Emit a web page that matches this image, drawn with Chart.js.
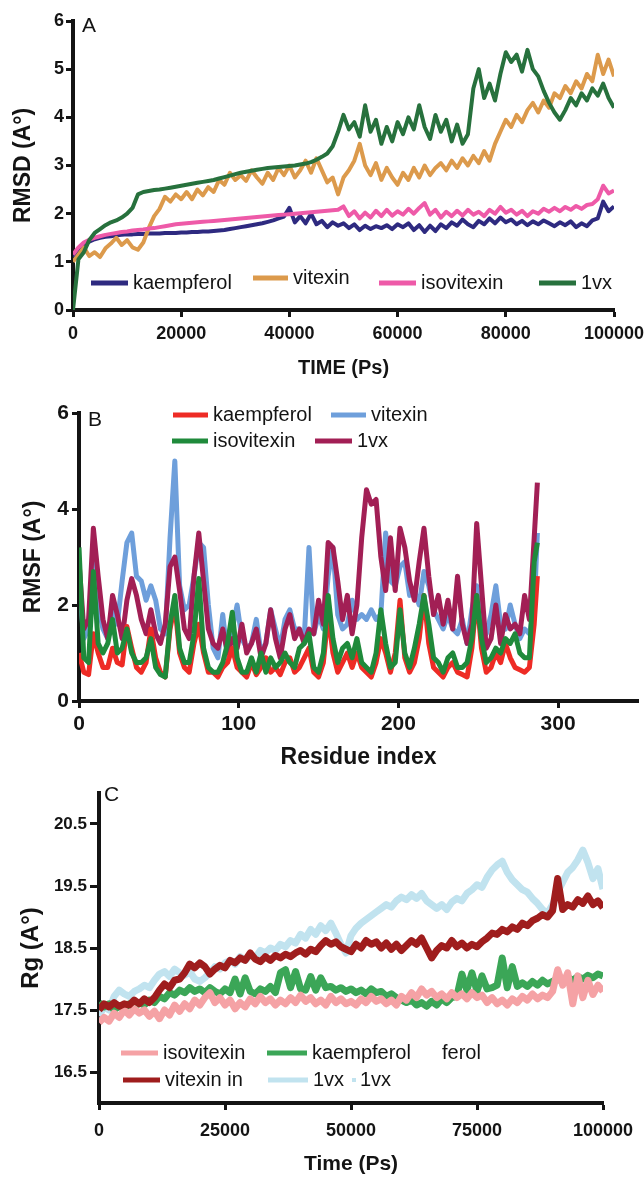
<!DOCTYPE html>
<html>
<head>
<meta charset="utf-8">
<script src="https://cdn.jsdelivr.net/npm/chart.js@4.4.1/dist/chart.umd.min.js"></script>
<style>
  html, body { margin: 0; padding: 0; background: #fff; }
  body { width: 644px; height: 1178px; position: relative; overflow: hidden; }
  canvas { position: absolute; left: 0; }
</style>
</head>
<body>
<canvas id="rmsd" width="644" height="380" style="top:0px"></canvas>
<canvas id="rmsf" width="644" height="400" style="top:380px"></canvas>
<canvas id="rg" width="644" height="398" style="top:780px"></canvas>
<script>
// ---- DATA ----
// A: RMSD, one sample every 1000 ps
const timeStepPs = 1000;
const rmsdTicksX = [0, 20000, 40000, 60000, 80000, 100000];
const rmsdTicksY = [0, 1, 2, 3, 4, 5, 6];

const kaempferolRmsd = [
  1.1,1.25,1.35,1.42,1.47,1.5,1.52,1.53,1.55,1.56,1.57,
  1.57,1.58,1.58,1.59,1.59,1.59,1.6,1.6,1.6,1.61,
  1.61,1.62,1.62,1.63,1.63,1.64,1.65,1.66,1.68,1.7,
  1.72,1.74,1.76,1.78,1.8,1.83,1.86,1.9,1.94,2.12,
  1.82,1.95,1.8,2.0,1.78,1.85,1.72,1.82,1.75,1.8,
  1.7,1.78,1.66,1.75,1.68,1.74,1.7,1.76,1.68,1.78,
  1.72,1.8,1.66,1.76,1.62,1.75,1.64,1.78,1.7,1.82,
  1.75,1.88,1.78,1.72,1.85,1.78,1.9,1.8,1.92,1.82,
  1.88,1.78,1.85,1.76,1.84,1.78,1.86,1.8,1.74,1.82,
  1.76,1.84,1.72,1.8,1.74,1.86,1.9,2.25,2.05,2.15
];
const vitexinRmsd = [
  1.0,1.15,1.3,1.12,1.2,1.1,1.28,1.38,1.5,1.35,1.45,
  1.3,1.25,1.4,1.7,1.95,2.1,2.35,2.25,2.4,2.3,
  2.45,2.3,2.5,2.38,2.55,2.45,2.7,2.6,2.85,2.7,
  2.8,2.68,2.9,2.75,2.62,2.85,2.7,2.95,2.8,3.0,
  2.75,2.9,3.1,2.85,3.15,2.9,2.65,2.75,2.4,2.75,
  2.9,3.1,3.45,3.0,2.8,3.05,2.7,2.95,2.75,2.6,
  2.85,2.7,2.95,2.75,3.0,2.8,2.95,3.05,2.9,3.1,
  2.95,3.15,3.0,3.2,3.05,3.3,3.1,3.45,3.7,3.95,
  3.8,4.05,3.9,4.15,4.3,4.1,4.35,4.2,4.5,4.4,
  4.65,4.5,4.75,4.6,4.9,4.75,5.3,4.9,5.2,4.85
];
const isovitexinRmsd = [
  1.15,1.3,1.4,1.46,1.5,1.53,1.56,1.58,1.6,1.62,1.63,
  1.65,1.66,1.67,1.69,1.7,1.72,1.74,1.76,1.78,1.79,
  1.8,1.81,1.82,1.83,1.84,1.85,1.86,1.87,1.88,1.89,
  1.9,1.91,1.92,1.93,1.94,1.95,1.96,1.97,1.98,1.99,
  2.0,2.01,2.02,2.03,2.04,2.05,2.06,2.07,2.08,2.15,
  1.95,2.05,1.9,2.02,1.92,2.06,1.95,2.08,1.96,2.05,
  1.98,2.1,2.0,2.12,2.22,1.98,2.08,1.92,2.04,1.95,
  2.06,1.96,2.08,1.98,2.04,1.95,2.08,2.0,2.14,2.02,
  2.08,1.98,2.06,1.95,2.05,2.0,2.1,2.04,2.12,2.05,
  2.14,2.08,2.16,2.1,2.18,2.2,2.3,2.58,2.42,2.48
];
const onevxRmsd = [
  0.0,1.05,1.2,1.45,1.6,1.68,1.76,1.82,1.86,1.92,2.0,
  2.12,2.4,2.45,2.47,2.49,2.5,2.52,2.54,2.56,2.58,
  2.6,2.62,2.64,2.66,2.68,2.7,2.73,2.76,2.79,2.82,
  2.85,2.87,2.89,2.91,2.93,2.95,2.96,2.97,2.98,2.99,
  3.0,3.02,3.04,3.07,3.12,3.18,3.25,3.4,3.7,4.05,
  3.75,3.9,3.6,4.25,3.7,3.95,3.45,3.8,3.5,3.9,
  3.65,4.0,3.75,4.25,3.8,3.55,4.05,3.7,3.95,3.5,
  3.85,3.45,3.65,4.6,5.0,4.4,4.7,4.35,4.9,5.35,
  5.15,5.3,4.95,5.4,5.0,4.85,4.55,4.3,4.1,3.95,
  4.15,4.4,4.25,4.5,4.35,4.6,4.45,4.7,4.4,4.2
];

// B: RMSF per residue
const rmsfTicksX = [0, 100, 200, 300];
const rmsfTicksY = [0, 2, 4, 6];
const residueIndex = [
  0,3,6,9,12,15,18,21,24,27, 30,33,36,39,42,45,48,51,54,57,
  60,63,66,69,72,75,78,81,84,87, 90,93,96,99,102,105,108,111,114,117,
  120,123,126,129,132,135,138,141,144,147, 150,153,156,159,162,165,168,171,174,177,
  180,183,186,189,192,195,198,201,204,207, 210,213,216,219,222,225,228,231,234,237,
  240,243,246,249,252,255,258,261,264,267, 270,273,276,279,282,285,287
];
const kaempferolRmsf = [
  1.0,0.6,0.55,1.4,1.0,0.7,0.7,1.1,0.8,0.75,
  1.55,1.1,0.7,0.6,0.8,1.5,0.9,0.6,0.5,1.5,
  2.0,1.0,0.7,0.6,1.2,1.6,1.0,0.6,0.6,0.5,
  0.7,0.8,1.1,0.7,0.6,0.5,0.8,0.55,0.7,0.9,
  0.6,0.7,0.55,0.8,0.9,0.6,0.7,0.9,1.1,0.6,
  0.5,0.8,1.8,1.0,0.6,0.8,1.0,0.7,1.0,0.7,
  0.6,0.5,0.8,1.3,1.0,0.6,1.0,2.1,0.9,0.6,
  0.8,1.3,2.2,1.2,0.7,0.6,0.5,0.7,0.8,0.6,
  0.55,0.5,1.1,2.2,1.1,0.6,0.7,1.0,0.8,1.2,
  0.9,0.7,0.65,0.6,0.7,1.6,2.6
];
const vitexinRmsf = [
  2.5,1.3,1.5,3.0,2.0,1.5,1.3,1.9,1.6,2.5,
  3.3,3.5,2.6,2.5,2.1,2.4,2.1,1.5,1.4,3.4,
  5.0,2.4,1.9,2.0,2.6,3.3,3.2,2.0,1.1,0.9,
  1.8,0.9,1.5,2.0,1.3,1.1,1.2,1.7,1.0,1.2,
  1.9,1.5,1.1,1.7,1.9,1.5,1.5,1.3,3.2,1.4,
  1.8,1.5,2.6,3.2,1.8,1.5,1.6,2.1,1.7,1.8,
  1.7,1.9,1.7,1.8,3.5,2.5,2.4,2.8,2.9,2.2,
  2.3,2.0,2.7,2.4,1.9,1.7,1.5,1.8,1.5,1.4,
  1.7,1.2,1.9,2.4,1.8,1.4,1.8,2.4,1.6,1.5,
  2.0,1.6,1.3,1.5,1.4,1.9,3.5
];
const isovitexinRmsf = [
  3.2,0.9,0.8,2.7,1.2,1.0,1.2,1.7,1.0,1.1,
  1.5,1.0,0.8,0.8,0.9,1.3,0.7,0.55,0.5,1.6,
  2.2,1.1,0.8,0.8,1.4,2.55,1.1,0.7,0.6,0.6,
  0.8,1.2,1.85,0.9,0.6,0.6,0.9,0.6,1.0,0.6,
  0.9,0.7,0.8,1.0,0.8,0.7,1.1,1.2,1.4,0.7,
  0.6,1.0,2.2,1.3,0.8,1.1,1.2,0.9,1.3,0.8,
  0.7,0.6,1.0,1.9,1.2,0.7,0.8,1.9,1.0,0.7,
  1.1,1.6,2.2,1.6,0.9,0.8,0.6,0.9,1.0,0.7,
  0.7,0.8,1.3,2.2,1.3,0.8,0.9,1.1,1.0,1.3,
  1.2,1.4,1.0,0.9,0.9,2.9,3.3
];
const onevxRmsf = [
  2.9,1.5,1.7,3.6,2.6,1.7,1.3,2.2,1.8,1.3,
  2.1,2.55,2.2,1.7,1.4,1.9,1.4,1.2,1.6,2.8,
  3.0,2.3,1.5,1.3,2.6,3.5,2.5,1.5,1.2,1.1,
  1.5,1.0,1.3,1.1,1.6,1.0,1.2,1.5,0.9,1.2,
  1.9,1.3,0.9,1.5,1.8,1.3,1.5,1.2,1.5,1.4,
  2.1,1.6,3.3,3.2,2.5,1.7,2.2,1.4,2.0,3.4,
  4.4,4.1,4.2,3.0,2.3,3.4,2.3,3.6,3.2,2.5,
  2.1,2.9,3.6,2.6,1.8,2.2,1.6,2.1,1.5,2.6,
  1.6,1.2,1.6,3.7,2.4,1.1,1.3,2.0,1.2,1.8,
  1.5,1.6,1.4,2.2,1.7,3.4,4.55
];

// C: radius of gyration, one sample every 1000 ps
const rgTicksX = [0, 25000, 50000, 75000, 100000];
const rgTicksY = [16.5, 17.5, 18.5, 19.5, 20.5];
const isovitexinRg = [
  17.3,17.38,17.32,17.45,17.38,17.5,17.42,17.52,17.45,17.5,17.4,
  17.48,17.36,17.5,17.42,17.58,17.48,17.6,17.52,17.66,17.58,
  17.7,17.78,17.62,17.7,17.58,17.66,17.52,17.62,17.55,17.68,
  17.6,17.72,17.62,17.68,17.58,17.66,17.6,17.7,17.62,17.74,
  17.64,17.7,17.6,17.66,17.58,17.72,17.62,17.68,17.6,17.64,
  17.58,17.68,17.62,17.72,17.64,17.68,17.6,17.66,17.58,17.72,
  17.66,17.78,17.7,17.84,17.74,17.8,17.7,17.76,17.68,17.78,
  17.7,17.76,17.68,17.78,17.7,17.74,17.62,17.7,17.6,17.66,
  17.58,17.68,17.62,17.72,17.66,17.76,17.68,17.74,17.7,17.8,
  18.15,17.9,18.1,17.6,18.05,17.7,17.98,17.75,17.9,17.8
];
const kaempferolRg = [
  17.62,17.55,17.6,17.5,17.56,17.52,17.6,17.55,17.62,17.58,17.66,
  17.62,17.72,17.68,17.78,17.74,17.82,17.78,17.86,17.8,17.84,
  17.78,17.86,17.8,17.76,17.84,17.78,18.0,17.76,18.02,17.8,
  17.76,17.84,17.8,17.88,17.78,18.1,18.15,17.86,18.12,17.84,
  17.82,18.04,17.82,18.02,17.86,17.88,17.82,17.86,17.8,17.84,
  17.78,17.82,17.76,17.84,17.78,17.8,17.72,17.76,17.7,17.66,
  17.62,17.66,17.58,17.62,17.56,17.64,17.58,17.68,17.62,17.7,
  17.72,18.08,17.82,18.1,17.8,18.05,17.84,17.86,17.9,18.34,
  17.86,18.2,17.88,17.94,17.88,17.96,17.9,17.98,17.92,17.96,
  18.0,17.96,18.02,17.98,18.04,18.0,18.06,18.02,18.08,18.05
];
const vitexinRg = [
  17.5,17.6,17.55,17.62,17.56,17.6,17.58,17.66,17.6,17.68,17.62,
  17.7,17.82,17.92,17.86,17.98,18.0,18.1,18.24,18.18,18.26,
  18.2,18.08,18.16,18.22,18.18,18.3,18.26,18.34,18.3,18.42,
  18.32,18.28,18.36,18.3,18.38,18.34,18.4,18.36,18.42,18.46,
  18.4,18.48,18.44,18.54,18.62,18.56,18.6,18.52,18.48,18.44,
  18.56,18.5,18.62,18.56,18.6,18.5,18.58,18.48,18.56,18.46,
  18.54,18.62,18.56,18.66,18.5,18.34,18.46,18.54,18.5,18.62,
  18.52,18.58,18.5,18.56,18.52,18.6,18.66,18.74,18.72,18.8,
  18.76,18.84,18.8,18.9,18.86,18.94,18.98,19.04,19.0,19.1,
  19.62,19.12,19.2,19.16,19.28,19.22,19.34,19.2,19.26,19.15
];
const onevxRg = [
  17.4,17.55,17.5,17.72,17.82,17.76,17.72,17.8,17.84,17.9,17.86,
  17.98,18.08,18.12,18.04,18.16,18.1,18.06,18.12,18.0,17.96,
  18.02,18.1,18.2,18.16,18.26,18.3,18.24,18.36,18.3,18.38,
  18.34,18.46,18.42,18.5,18.46,18.56,18.52,18.62,18.58,18.72,
  18.66,18.8,18.72,18.86,18.78,18.9,18.74,18.56,18.42,18.7,
  18.82,18.9,18.96,19.02,19.08,19.14,19.2,19.16,19.26,19.32,
  19.28,19.36,19.3,19.38,19.26,19.2,19.14,19.2,19.12,19.24,
  19.3,19.26,19.38,19.44,19.52,19.48,19.64,19.76,19.84,19.9,
  19.72,19.6,19.52,19.44,19.4,19.3,19.22,19.12,19.06,19.2,
  19.4,19.56,19.72,19.8,19.92,20.08,19.88,19.62,19.78,19.45
];

// ---- STYLE ----
const INK = '#141414';
const FONT = "'Liberation Sans', Arial, Helvetica, sans-serif";

const timeRmsd = kaempferolRmsd.map((_, i) => i * timeStepPs);
const timeRg = isovitexinRg.map((_, i) => i * timeStepPs);

function series(label, xs, ys, color, width, order) {
  return {
    label,
    data: xs.map((x, i) => ({ x, y: ys[i] })),
    borderColor: color,
    backgroundColor: color,
    borderWidth: width,
    borderJoinStyle: 'round',
    pointRadius: 0,
    tension: 0,
    fill: false,
    order
  };
}

function axis(c) {
  const h = c.horizontal;
  return {
    type: 'linear',
    position: h ? 'bottom' : 'left',
    min: c.min,
    max: c.max,
    afterBuildTicks: s => { s.ticks = c.ticks.map(v => ({ value: v })); },
    afterFit: s => {
      if (h) { s.height = c.size; s.paddingLeft = 0; s.paddingRight = 0; }
      else { s.width = c.size; s.paddingTop = 0; s.paddingBottom = 0; }
    },
    border: { display: true, color: INK, width: 4 },
    grid: { display: true, drawOnChartArea: false, drawTicks: true, tickLength: c.tickLength, tickWidth: 3, tickColor: INK },
    ticks: {
      autoSkip: false, maxRotation: 0, color: INK, padding: c.tickPad,
      font: { family: FONT, size: c.tickSize, weight: 'bold' },
      callback: v => String(v)
    },
    title: {
      display: true, text: c.title, color: INK,
      font: { family: FONT, size: c.titleSize, weight: 'bold' },
      padding: h ? { top: 0, bottom: c.titlePad } : { top: c.titlePad, bottom: 0 }
    }
  };
}

// panel letter + hand placed legend, like the original figure
const panelDecor = {
  id: 'panelDecor',
  afterDraw(chart, args, o) {
    const ctx = chart.ctx;
    ctx.save();
    ctx.textAlign = 'left';
    ctx.textBaseline = 'middle';
    ctx.fillStyle = INK;
    ctx.font = `21px ${FONT}`;
    ctx.fillText(o.letter.text, o.letter.x, o.letter.y);
    ctx.font = `20px ${FONT}`;
    o.entries.forEach(e => {
      const ds = chart.data.datasets[e.dataset];
      ctx.strokeStyle = ds.borderColor;
      ctx.lineWidth = 5;
      ctx.lineCap = 'butt';
      ctx.beginPath();
      ctx.moveTo(e.x, e.y);
      ctx.lineTo(e.x + e.len, e.y);
      ctx.stroke();
      ctx.fillStyle = INK;
      ctx.fillText(e.text || ds.label, e.x + e.len + 5, e.y);
    });
    (o.extras || []).forEach(t => {
      if (t.dot) {
        ctx.fillStyle = t.dot;
        ctx.fillRect(t.x, t.y - 2, 4, 4);
      } else {
        ctx.fillStyle = INK;
        ctx.fillText(t.text, t.x, t.y);
      }
    });
    ctx.restore();
  }
};

function makeChart(id, datasets, scales, padding, decor) {
  return new Chart(document.getElementById(id), {
    type: 'line',
    data: { datasets },
    options: {
      responsive: false,
      animation: false,
      devicePixelRatio: 1,
      layout: { padding },
      scales,
      plugins: { legend: { display: false }, tooltip: { enabled: false }, panelDecor: decor }
    },
    plugins: [panelDecor]
  });
}

// ---- A: RMSD ----
makeChart('rmsd', [
  series('kaempferol', timeRmsd, kaempferolRmsd, '#2e2a80', 4, 3),
  series('vitexin', timeRmsd, vitexinRmsd, '#dc9a4c', 4, 2),
  series('isovitexin', timeRmsd, isovitexinRmsd, '#ee5aa8', 4, 1),
  series('1vx', timeRmsd, onevxRmsd, '#27713d', 4, 0)
], {
  x: axis({ horizontal: true, min: 0, max: 100000, ticks: rmsdTicksX, size: 70, tickLength: 7, tickPad: 6, tickSize: 18, title: 'TIME (Ps)', titleSize: 20, titlePad: 0 }),
  y: axis({ horizontal: false, min: 0, max: 6, ticks: rmsdTicksY, size: 73, tickLength: 7, tickPad: 2, tickSize: 18, title: 'RMSD (A°)', titleSize: 23, titlePad: 10 })
}, { left: 0, right: 30, top: 21, bottom: 0 }, {
  letter: { text: 'A', x: 82, y: 26 },
  entries: [
    { dataset: 0, x: 91, y: 283, len: 37 },
    { dataset: 1, x: 253, y: 278, len: 35 },
    { dataset: 2, x: 379, y: 283, len: 37 },
    { dataset: 3, x: 539, y: 283, len: 37 }
  ]
});

// ---- B: RMSF ----
makeChart('rmsf', [
  series('kaempferol', residueIndex, kaempferolRmsf, '#ee2b25', 5, 1),
  series('vitexin', residueIndex, vitexinRmsf, '#6e9fdb', 5, 3),
  series('isovitexin', residueIndex, isovitexinRmsf, '#1f8a3b', 5, 0),
  series('1vx', residueIndex, onevxRmsf, '#a21f55', 5, 2)
], {
  x: axis({ horizontal: true, min: 0, max: 350, ticks: rmsfTicksX, size: 79, tickLength: 7, tickPad: 4, tickSize: 21, title: 'Residue index', titleSize: 23, titlePad: 9 }),
  y: axis({ horizontal: false, min: 0, max: 6, ticks: rmsfTicksY, size: 79, tickLength: 7, tickPad: 3, tickSize: 21, title: 'RMSF (A°)', titleSize: 23, titlePad: 20 })
}, { left: 0, right: 6, top: 33, bottom: 0 }, {
  letter: { text: 'B', x: 88, y: 40 },
  entries: [
    { dataset: 0, x: 173, y: 35, len: 35 },
    { dataset: 1, x: 331, y: 35, len: 35 },
    { dataset: 2, x: 172, y: 61, len: 36 },
    { dataset: 3, x: 315, y: 61, len: 37 }
  ]
});

// ---- C: Rg ----
makeChart('rg', [
  series('isovitexin', timeRg, isovitexinRg, '#f5a2a5', 7, 1),
  series('kaempferol', timeRg, kaempferolRg, '#3ba657', 7, 2),
  series('vitexin', timeRg, vitexinRg, '#9f1d1d', 7, 0),
  series('1vx', timeRg, onevxRg, '#c1e3ef', 7, 3)
], {
  x: axis({ horizontal: true, min: 0, max: 100000, ticks: rgTicksX, size: 75, tickLength: 7, tickPad: 10, tickSize: 18, title: 'Time (Ps)', titleSize: 21, titlePad: 1 }),
  y: axis({ horizontal: false, min: 16, max: 21, ticks: rgTicksY, size: 99, tickLength: 9, tickPad: 3, tickSize: 17, title: 'Rg (A°)', titleSize: 24, titlePad: 17 })
}, { left: 0, right: 41, top: 13, bottom: 0 }, {
  letter: { text: 'C', x: 104, y: 15 },
  entries: [
    { dataset: 0, x: 121, y: 273, len: 37 },
    { dataset: 1, x: 267, y: 273, len: 40 },
    { dataset: 2, x: 123, y: 300, len: 37, text: 'vitexin in' },
    { dataset: 3, x: 268, y: 300, len: 40 }
  ],
  extras: [
    { text: 'ferol', x: 442, y: 273 },
    { dot: '#c1e3ef', x: 352, y: 300 },
    { text: '1vx', x: 360, y: 300 }
  ]
});
</script>
</body>
</html>
